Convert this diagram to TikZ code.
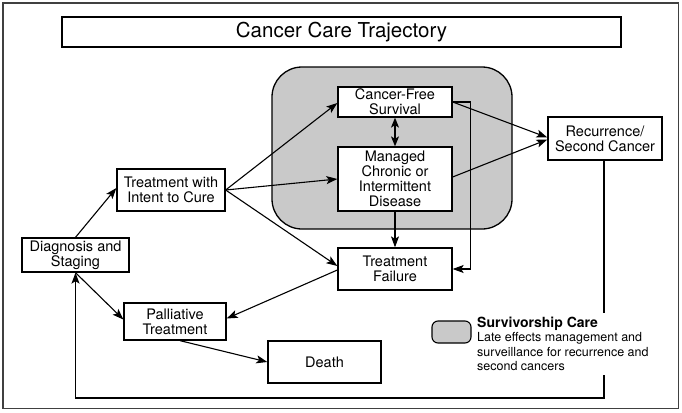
\documentclass[tikz,border=0pt]{standalone}
\usepackage{fontspec}
\setmainfont{TeX Gyre Heros}
\usetikzlibrary{arrows.meta,calc}
\tikzset{
  box/.style={draw=black, line width=1.3pt, fill=white, align=center, inner sep=0pt,
    font=\fontsize{14.5}{15}\selectfont},
  conn/.style={line width=1.1pt, -{Stealth[length=11pt,width=8pt,inset=2.5pt]}},
  dconn/.style={line width=1.1pt, {Stealth[length=10pt,width=8pt,inset=2.5pt]}-{Stealth[length=10pt,width=8pt,inset=2.5pt]}},
  plain/.style={line width=1.1pt},
}
\begin{document}
\begin{tikzpicture}[x=1pt,y=-1pt]
\useasboundingbox (0,0) rectangle (682,412);
\draw[line width=1.8pt, draw=black!75] (3,3) rectangle (678.5,408.5);
% title
\node[box, minimum width=559pt, minimum height=30pt, font=\fontsize{20.5}{22}\selectfont] (title) at (341.5,32) {Cancer Care Trajectory};
% survivorship region
\draw[fill=black!21, draw=black, line width=1.3pt, rounded corners=30pt] (272,67) rectangle (512,229);
% nodes
\node[box, minimum width=114pt, minimum height=30pt] (cfs) at (395,102) {Cancer-Free\\Survival};
\node[box, minimum width=114pt, minimum height=64pt] (mcd) at (395,179) {Managed\\Chronic or\\Intermittent\\Disease};
\node[box, minimum width=114pt, minimum height=42pt] (tf) at (395,269) {Treatment\\Failure};
\node[box, minimum width=114pt, minimum height=43pt] (rec) at (605,138.5) {Recurrence/\\Second Cancer};
\node[box, minimum width=108pt, minimum height=42pt] (twi) at (171,190) {Treatment with\\Intent to Cure};
\node[box, minimum width=107pt, minimum height=34pt] (dx) at (75.5,255) {Diagnosis and\\Staging};
\node[box, minimum width=102pt, minimum height=37pt] (pal) at (175,321.5) {Palliative\\Treatment};
\node[box, minimum width=113pt, minimum height=42pt] (death) at (324.5,362) {Death};
% connectors
\draw[conn] (dx.north) -- ($(twi.west)+(0,-2)$);
\draw[conn] (dx.south) -- ($(pal.west)+(0,-2)$);
\draw[conn] (twi.east) -- ($(cfs.west)+(0,1)$);
\draw[conn] (twi.east) -- (mcd.west);
\draw[conn] (twi.east) -- ($(tf.west)+(0,-3)$);
\draw[conn] ($(tf.west)+(0,1)$) -- ($(pal.east)+(0,-3)$);
\draw[conn] ($(pal.south)+(5,0)$) -- (death.west);
\draw[dconn] (cfs.south) -- (mcd.north);
\draw[conn] (mcd.south) -- (tf.north);
\coordinate (fb1) at ($(cfs.east)+(18,0)$);
\draw[conn] (cfs.east) -- (fb1) |- (tf.east);
\draw[conn] (cfs.east) -- ($(rec.west)+(0,-1)$);
\draw[conn] ($(mcd.east)+(0,-2)$) -- ($(rec.west)+(0,1)$);
\coordinate (lp1) at (604,398);
\draw[conn] ($(rec.south)+(-1,0)$) -- (lp1) -| (dx.south);
% legend
\draw[fill=black!21, draw=black, line width=1.1pt, rounded corners=6pt] (432,321) rectangle (471,343);
\node[fill=white, anchor=north west, align=left, inner sep=4pt, font=\fontsize{12.5}{14.3}\selectfont] (legtxt) at (473,313) {{\fontsize{14}{14.3}\selectfont\bfseries Survivorship Care}\\Late effects management and\\surveillance for recurrence and\\second cancers};
\end{tikzpicture}
\end{document}
